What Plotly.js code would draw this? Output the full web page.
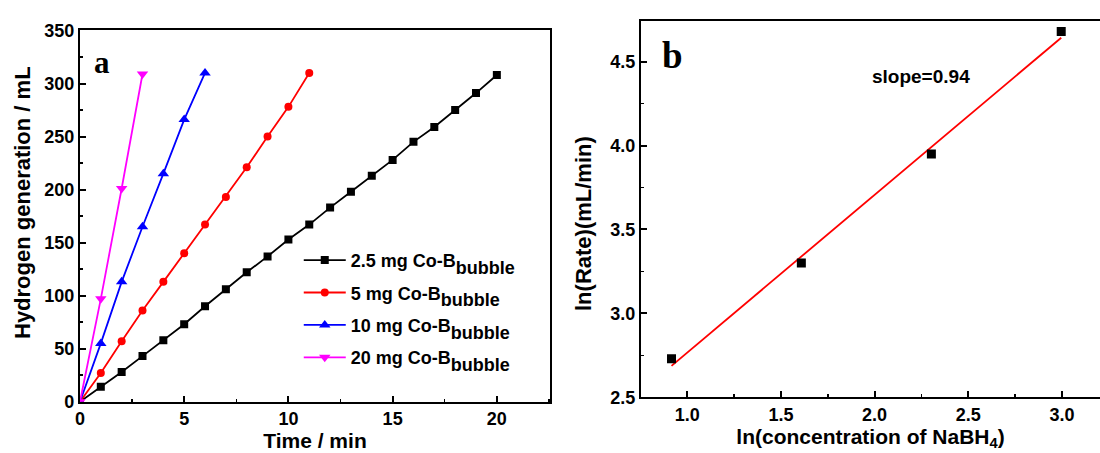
<!DOCTYPE html>
<html>
<head>
<meta charset="utf-8">
<script src="https://cdn.plot.ly/plotly-3.0.1.min.js"></script>
<style>
  html, body { margin: 0; padding: 0; background: #fff; }
  #chart { width: 1100px; height: 453px; }
</style>
</head>
<body>
<div id="chart"></div>
<script>
// Panel (a): hydrogen volume released over time for four catalyst loadings
const time25 = [0, 1, 2, 3, 4, 5, 6, 7, 8, 9, 10, 11, 12, 13, 14, 15, 16, 17, 18, 19, 20];
const h2_25  = [0, 14, 28, 43, 58, 73, 90, 106, 122, 137, 153, 167, 183, 198, 213, 228, 245, 259, 275, 291, 308];
const time5  = [0, 1, 2, 3, 4, 5, 6, 7, 8, 9, 10, 11];
const h2_5   = [0, 27, 57, 86, 113, 140, 167, 193, 221, 250, 278, 310];
const time10 = [0, 1, 2, 3, 4, 5, 6];
const h2_10  = [0, 55, 113, 165, 215, 266, 310];
const time20 = [0, 1, 2, 3];
const h2_20  = [0, 97, 201, 309];
const loadings = ['2.5 mg', '5 mg', '10 mg', '20 mg'];

// Panel (b): ln(rate) against ln(NaBH4 concentration) with its linear fit
const lnConc = [0.916, 1.609, 2.303, 2.996];
const lnRate = [2.73, 3.30, 3.95, 4.68];
const slope = 0.94;

const FONT = 'Arial, "Liberation Sans", sans-serif';
const SERIF = '"Times New Roman", "Liberation Serif", serif';

function seriesName(load) {
  return '<b>' + load + ' Co-B<sub><span style="font-size:18px;baseline-shift:-2.5px">bubble</span></sub></b>';
}

const styles = [
  { color: '#000000', symbol: 'square', size: 8 },
  { color: '#ff0000', symbol: 'circle', size: 8 },
  { color: '#0000ff', symbol: 'triangle-up', size: 10 },
  { color: '#ff00ff', symbol: 'triangle-down', size: 10 }
];
const xs = [time25, time5, time10, time20];
const ys = [h2_25, h2_5, h2_10, h2_20];

const traces = xs.map((x, i) => ({
  x: x, y: ys[i], type: 'scatter', mode: 'lines+markers',
  name: seriesName(loadings[i]), legendgroup: 'g' + i,
  line: { color: styles[i].color, width: 1.8 },
  marker: { color: styles[i].color, symbol: styles[i].symbol, size: styles[i].size },
  xaxis: 'x', yaxis: 'y'
}));

// fitted line through the mean point with the stated slope
const mx = lnConc.reduce((a, b) => a + b, 0) / lnConc.length;
const my = lnRate.reduce((a, b) => a + b, 0) / lnRate.length;
const fitX = [lnConc[0], lnConc[lnConc.length - 1]];
const fitY = fitX.map(v => my + slope * (v - mx));

traces.push({
  x: fitX, y: fitY, type: 'scatter', mode: 'lines', showlegend: false,
  line: { color: '#ff0000', width: 1.8 }, xaxis: 'x2', yaxis: 'y2', hoverinfo: 'skip'
});
traces.push({
  x: lnConc, y: lnRate, type: 'scatter', mode: 'markers', showlegend: false,
  marker: { color: '#000000', symbol: 'square', size: 9 }, xaxis: 'x2', yaxis: 'y2'
});

const tickFont = { family: FONT, size: 18, color: '#000', weight: 'bold' };
const titleFont = { family: FONT, size: 21, color: '#000', weight: 'bold' };
const yTitleFont = { family: FONT, size: 22, color: '#000', weight: 'bold' };
const minorTicks = { ticks: 'inside', ticklen: 3, tickwidth: 1.5, tickcolor: '#000' };
const base = {
  showline: true, linecolor: '#000', linewidth: 2, mirror: true,
  ticks: 'inside', ticklen: 6, tickwidth: 2, tickcolor: '#000',
  showgrid: false, zeroline: false, tickfont: tickFont
};

const layout = {
  width: 1100, height: 453,
  margin: { l: 0, r: 0, t: 0, b: 0 },
  paper_bgcolor: '#fff', plot_bgcolor: '#fff',
  showlegend: true,
  legend: {
    x: 0.2716, y: 0.466, xanchor: 'left', yanchor: 'top',
    font: { family: FONT, size: 18, color: '#000' },
    bgcolor: 'rgba(0,0,0,0)', traceorder: 'grouped', tracegroupgap: 6,
    itemwidth: 42
  },
  xaxis: Object.assign({}, base, {
    domain: [0.0727, 0.5], range: [0, 22.55], anchor: 'y',
    tick0: 0, dtick: 5,
    minor: Object.assign({ dtick: 2.5 }, minorTicks),
    title: { text: 'Time / min', font: titleFont, standoff: 3 }
  }),
  yaxis: Object.assign({}, base, {
    domain: [0.1132, 0.9327], range: [0, 350], anchor: 'x',
    tick0: 0, dtick: 50,
    minor: Object.assign({ dtick: 25 }, minorTicks)
  }),
  // right panel runs to the page edge, open on its right side
  xaxis2: Object.assign({}, base, {
    domain: [0.5827, 1], range: [0.753, 3.203], anchor: 'y2',
    tick0: 0, dtick: 0.5, tickformat: '.1f',
    minor: Object.assign({ dtick: 0.25 }, minorTicks),
    title: { text: 'ln(concentration of NaBH<sub>4</sub>)', font: titleFont, standoff: 3 }
  }),
  yaxis2: Object.assign({}, base, {
    domain: [0.123, 0.9536], range: [2.5, 4.742], anchor: 'x2', mirror: false,
    tick0: 0, dtick: 0.5, tickformat: '.1f',
    minor: Object.assign({ dtick: 0.25 }, minorTicks)
  }),
  annotations: [
    // vertical axis titles
    { text: 'Hydrogen generation / mL', xref: 'paper', yref: 'paper',
      x: 22 / 1100, y: 1 - 203 / 453, textangle: -90,
      xanchor: 'center', yanchor: 'middle', showarrow: false, font: yTitleFont },
    { text: 'ln(Rate)(mL/min)', xref: 'paper', yref: 'paper',
      x: 583 / 1100, y: 1 - 224 / 453, textangle: -90,
      xanchor: 'center', yanchor: 'middle', showarrow: false, font: yTitleFont },
    // panel letters and fit annotation
    { text: 'a', xref: 'paper', yref: 'paper', x: 102 / 1100, y: 1 - 62 / 453,
      xanchor: 'center', yanchor: 'middle', showarrow: false,
      font: { family: SERIF, size: 31, color: '#000', weight: 'bold' } },
    { text: 'b', xref: 'paper', yref: 'paper', x: 672 / 1100, y: 1 - 56 / 453,
      xanchor: 'center', yanchor: 'middle', showarrow: false,
      font: { family: SERIF, size: 37, color: '#000', weight: 'bold' } },
    { text: 'slope=0.94', xref: 'paper', yref: 'paper', x: 921 / 1100, y: 1 - 77 / 453,
      xanchor: 'center', yanchor: 'middle', showarrow: false,
      font: { family: FONT, size: 19, color: '#000', weight: 'bold' } }
  ]
};

Plotly.newPlot('chart', traces, layout, { displayModeBar: false, staticPlot: true });
</script>
</body>
</html>
